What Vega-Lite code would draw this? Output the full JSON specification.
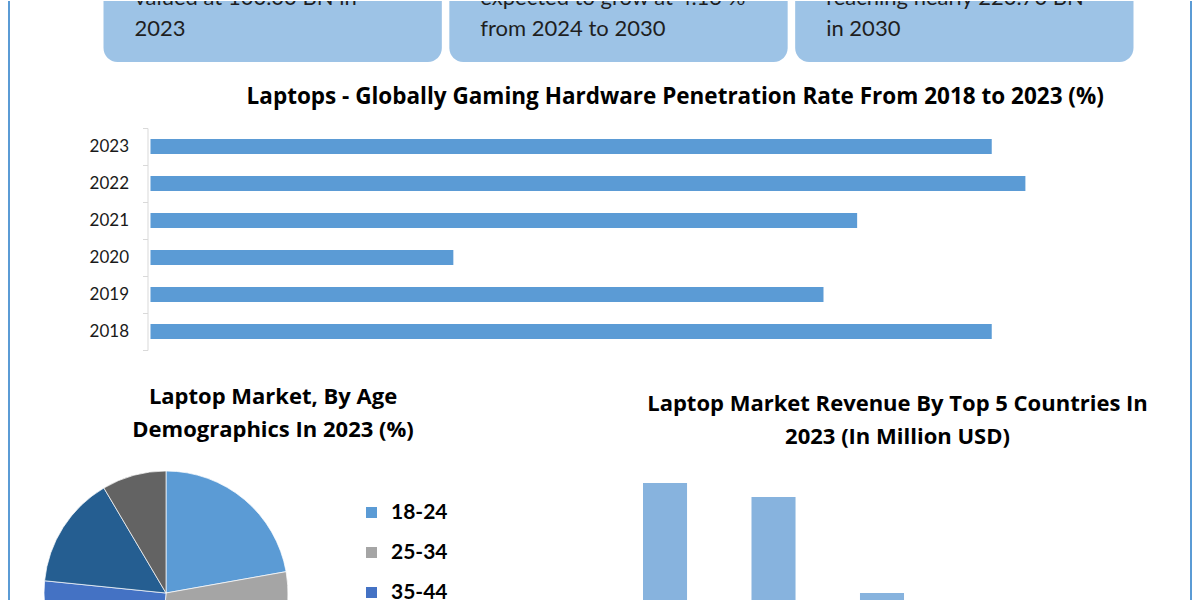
{
  "$schema": "https://vega.github.io/schema/vega-lite/v6.json",
  "padding": {"left": 8, "top": 0, "right": 0, "bottom": 0},
  "background": "white",
  "config": {
    "view": {"stroke": null},
    "font": "Lato",
    "axis": {"labelFont": "Lato"},
    "legend": {"labelFont": "Lato"},
    "title": {"font": "Open Sans"}
  },
  "datasets": {
    "edges": [{"edge": "frame"}],
    "boxes": [
      {"box": "A", "text": "valued at 100.00 BN in\n2023"},
      {"box": "B", "text": "expected to grow at 4.13 %\nfrom 2024 to 2030"},
      {"box": "C", "text": "reaching nearly 220.70 BN\nin 2030"}
    ],
    "penetration": [
      {"year": 2018, "rate": 25},
      {"year": 2019, "rate": 20},
      {"year": 2020, "rate": 9},
      {"year": 2021, "rate": 21},
      {"year": 2022, "rate": 26},
      {"year": 2023, "rate": 25}
    ],
    "age": [
      {"age": "18-24", "share": 22.2},
      {"age": "25-34", "share": 29.1},
      {"age": "35-44", "share": 25.3},
      {"age": "45-54", "share": 14.9},
      {"age": "55+", "share": 8.5}
    ],
    "countries": [
      {"country": "Country 1", "revenue": 95.1},
      {"country": "Country 2", "revenue": 89.3},
      {"country": "Country 3", "revenue": 50.0},
      {"country": "Country 4", "revenue": 40},
      {"country": "Country 5", "revenue": 35}
    ]
  },
  "spacing": 32,
  "hconcat": [
    {
      "width": 1, "height": 760,
      "data": {"name": "edges"},
      "mark": {"type": "rule", "color": "#5B9BD5", "strokeWidth": 2},
      "encoding": {"x": {"datum": 0, "type": "quantitative", "scale": {"domain": [0, 1]}, "axis": null}}
    },
    {
      "columns": 1,
      "center": true,
      "spacing": 23,
      "concat": [
        {
          "width": 1067, "height": 61,
          "data": {"name": "boxes"},
          "layer": [
            {
              "mark": {"type": "bar", "color": "#9DC3E6", "cornerRadiusBottomLeft": 14, "cornerRadiusBottomRight": 14},
              "encoding": {
                "x": {"field": "box", "type": "nominal", "scale": {"range": [36, 1066], "paddingInner": 0.0217, "paddingOuter": 0}, "axis": null},
                "y": {"datum": 1, "type": "quantitative", "scale": {"domain": [0, 1]}, "axis": null},
                "y2": {"datum": 0}
              }
            },
            {
              "mark": {"type": "text", "align": "left", "baseline": "alphabetic", "lineBreak": "\n", "lineHeight": 31, "fontSize": 22, "color": "#1F1F1F", "dx": 31, "clip": true},
              "encoding": {
                "x": {"field": "box", "type": "nominal", "bandPosition": 0},
                "y": {"datum": 0.93, "type": "quantitative"},
                "text": {"field": "text"}
              }
            }
          ]
        },
        {
          "columns": 1,
          "center": true,
          "spacing": 34,
          "title": {
            "text": "Laptops - Globally Gaming Hardware Penetration Rate From 2018 to 2023 (%)",
            "fontSize": 22.5, "fontWeight": "bold", "color": "#000000",
            "frame": "bounds", "anchor": "start", "dx": 204, "offset": 11
          },
          "concat": [
            {
              "width": 907, "height": 222,
              "data": {"name": "penetration"},
              "mark": {"type": "bar", "color": "#5B9BD5", "height": {"band": 0.405}},
              "encoding": {
                "y": {
                  "field": "year", "type": "ordinal", "sort": "descending",
                  "scale": {"paddingInner": 0, "paddingOuter": 0},
                  "axis": {
                    "title": null, "tickBand": "extent", "domainColor": "#D9D9D9", "tickColor": "#D9D9D9",
                    "tickSize": 5, "labelPadding": 14, "labelFontSize": 17, "labelColor": "#1A1A1A"
                  }
                },
                "x": {"field": "rate", "type": "quantitative", "scale": {"domain": [-0.089, 26.865], "nice": false, "zero": false}, "axis": null}
              }
            },
            {
              "hconcat": [
                {
                  "width": 244, "height": 244,
                  "data": {"name": "age"},
                  "title": {
                    "text": ["Laptop Market, By Age", "Demographics In 2023 (%)"],
                    "fontSize": 22, "fontWeight": "bold", "color": "#000000", "lineHeight": 33,
                    "frame": "group", "anchor": "middle", "dx": 107, "offset": 28
                  },
                  "mark": {"type": "arc", "outerRadius": 122, "stroke": "#ffffff", "strokeWidth": 0.7},
                  "encoding": {
                    "theta": {"field": "share", "type": "quantitative", "stack": true},
                    "color": {
                      "field": "age", "type": "nominal",
                      "scale": {"domain": ["18-24", "25-34", "35-44", "45-54", "55+"], "range": ["#5B9BD5", "#A5A5A5", "#4472C4", "#255E91", "#636363"]},
                      "legend": {
                        "title": null, "orient": "none", "legendX": 352, "legendY": 501,
                        "symbolType": "square", "symbolSize": 121, "symbolStrokeWidth": 0,
                        "labelFontSize": 21, "labelFontWeight": "bold", "labelColor": "#000000",
                        "rowPadding": 18, "labelOffset": 9
                      }
                    }
                  }
                },
                {
                  "width": 546, "height": 244,
                  "data": {"name": "countries"},
                  "title": {
                    "text": ["Laptop Market Revenue By Top 5 Countries In", "2023 (In Million USD)"],
                    "fontSize": 22, "fontWeight": "bold", "color": "#000000", "lineHeight": 33,
                    "frame": "group", "anchor": "middle", "dx": 12.5, "offset": 22
                  },
                  "mark": {"type": "bar", "color": "#87B3DE"},
                  "encoding": {
                    "x": {"field": "country", "type": "nominal", "sort": null, "scale": {"range": [31, 509], "paddingInner": 0.594, "paddingOuter": 0}, "axis": null},
                    "y": {"field": "revenue", "type": "quantitative", "scale": {"domain": [0, 100], "nice": false}, "axis": null}
                  }
                }
              ],
              "spacing": 198
            }
          ]
        }
      ]
    },
    {
      "width": 1, "height": 760,
      "data": {"name": "edges"},
      "mark": {"type": "rule", "color": "#5B9BD5", "strokeWidth": 2},
      "encoding": {"x": {"datum": 0, "type": "quantitative", "scale": {"domain": [0, 1]}, "axis": null}}
    }
  ]
}
